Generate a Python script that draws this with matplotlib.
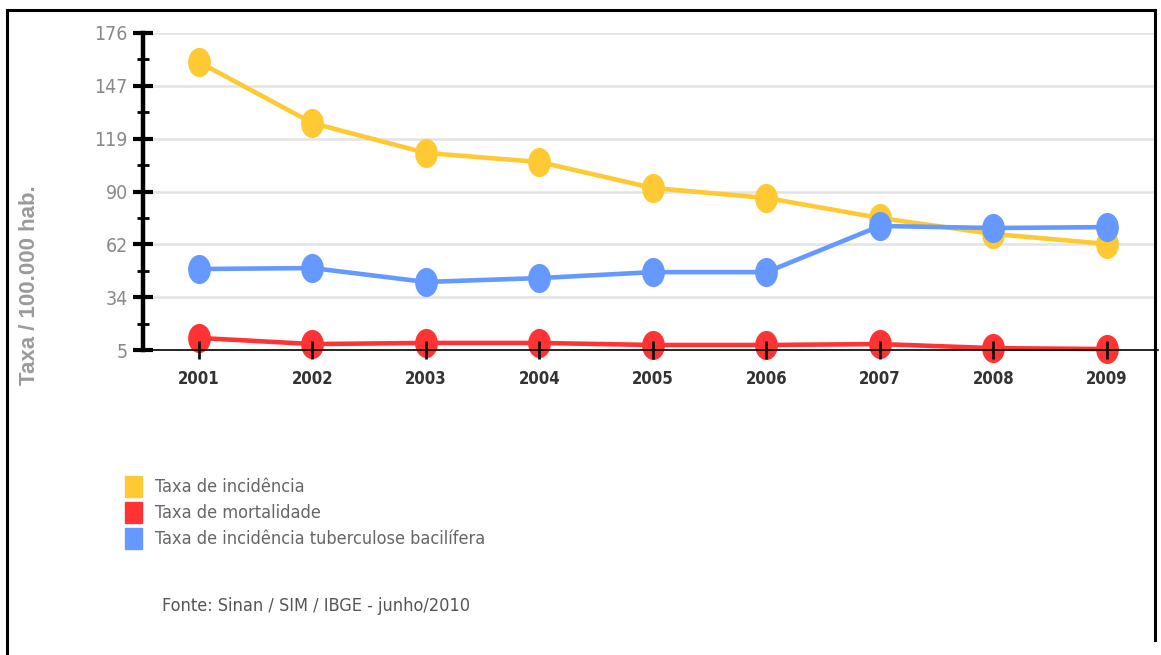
import numpy as np
import matplotlib
matplotlib.use('Agg')
import matplotlib.pyplot as plt
from matplotlib.path import Path
from matplotlib.transforms import Affine2D
from matplotlib.lines import Line2D
from matplotlib.patches import Rectangle

# --------------------------- Dados ---------------------------
anos = [2001, 2002, 2003, 2004, 2005, 2006, 2007, 2008, 2009]
incidencia = [160.3, 127.4, 111.3, 106.4, 92.4, 87.0, 76.2, 67.6, 62.2]
mortalidade = [11.5, 8.2, 8.8, 8.8, 7.7, 7.7, 8.2, 6.0, 5.5]
bacilifera = [48.7, 49.2, 41.7, 43.8, 47.0, 47.0, 71.9, 70.8, 71.3]

y_ticks_labels = ['5', '34', '62', '90', '119', '147', '176']
legenda = ['Taxa de incidência', 'Taxa de mortalidade',
           'Taxa de incidência tuberculose bacilífera']
fonte = 'Fonte: Sinan / SIM / IBGE - junho/2010'

AMARELO = '#FFC933'
VERMELHO = '#FF3333'
AZUL = '#6699FF'

# fonte estreita (versão condensada do DejaVu)
NARROW = dict(family='DejaVu Sans', stretch='condensed')

# marcador elíptico (mais alto que largo)
elipse = Path.unit_circle().transformed(Affine2D().scale(0.78, 1.0))

# --------------------------- Figura ---------------------------
fig = plt.figure(figsize=(11.61, 6.55), dpi=100)
W, H = 1161, 655
ax = fig.add_axes([143 / W, 1 - 350 / H, (1155 - 143) / W, (350 - 33) / H])

for serie, cor in [(incidencia, AMARELO), (bacilifera, AZUL), (mortalidade, VERMELHO)]:
    ax.plot(anos, serie, color=cor, lw=3.3, marker=elipse, markersize=21,
            markeredgewidth=0, solid_capstyle='round', clip_on=False, zorder=2)

ax.set_xlim(2000.507, 2009.423)
ax.set_ylim(5, 176)

yt = np.linspace(5, 176, len(y_ticks_labels))
for v in yt[1:]:
    ax.axhline(v, color='#e3e3e3', lw=1.8, zorder=1)

# ticks por cima das linhas (como no original)
ax.set_axisbelow(False)

ax.set_yticks(yt)
ax.set_yticklabels(y_ticks_labels, fontsize=14, color='#888888', **NARROW)
ax.set_yticks((yt[:-1] + yt[1:]) / 2, minor=True)
ax.tick_params(axis='y', which='major', direction='inout', length=14, width=3,
               color='black', pad=4)
ax.tick_params(axis='y', which='minor', direction='inout', length=8, width=2,
               color='black')

ax.set_xticks(anos)
ax.set_xticklabels([str(a) for a in anos], fontsize=12, fontweight='bold',
                   color='#333333', **NARROW)
ax.tick_params(axis='x', direction='inout', length=13, width=2, color='#111111', pad=8)

ax.spines['top'].set_visible(False)
ax.spines['right'].set_visible(False)
ax.spines['left'].set_linewidth(3.2)
ax.spines['bottom'].set_linewidth(1.2)
ax.spines['bottom'].set_bounds(2000.43, 2009.45)

fig.text(30 / W, 1 - 285 / H, 'Taxa / 100.000 hab.', rotation=90, ha='center',
         va='center', fontsize=16, fontweight='bold', color='#9a9a9a',
         family=['Liberation Sans', 'DejaVu Sans'])

# legenda
for i, (txt, cor) in enumerate(zip(legenda, [AMARELO, VERMELHO, AZUL])):
    ytop = 476 + i * 26
    fig.patches.append(Rectangle((125 / W, 1 - (ytop + 21) / H), 17 / W, 21 / H,
                                 transform=fig.transFigure, color=cor))
    fig.text(155 / W, 1 - (ytop + 10.5) / H, txt, ha='left', va='center',
             fontsize=13, color='#666666', **NARROW)

fig.text(162 / W, 1 - 606 / H, fonte, ha='left', va='center', fontsize=13,
         color='#555555', **NARROW)

# moldura externa
for xs, ys in [([7, 1155], [10, 10]), ([7, 7], [10, 655]), ([1155, 1155], [10, 640])]:
    fig.lines.append(Line2D([x / W for x in xs], [1 - y / H for y in ys],
                            transform=fig.transFigure, color='black', lw=2.2))

fig.savefig('out.png', dpi=100, facecolor='white')
